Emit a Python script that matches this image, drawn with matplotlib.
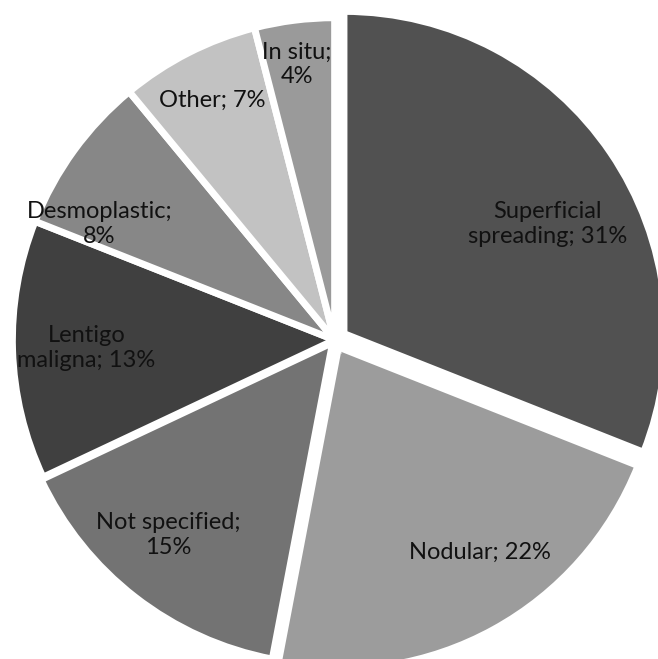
import matplotlib
matplotlib.use("Agg")
import matplotlib.pyplot as plt

# melanoma subtypes, clockwise from 12 o'clock
labels = ["Superficial\nspreading; 31%", "Nodular; 22%", "Not specified;\n15%",
          "Lentigo\nmaligna; 13%", "Desmoplastic;\n8%", "Other; 7%", "In situ;\n4%"]
shares = [31, 22, 15, 13, 8, 7, 4]
colors = ["#515151", "#9c9c9c", "#737373", "#404040", "#878787", "#c2c2c2", "#9a9a9a"]
explode = [0.035, 0.025, 0.01, 0.0, 0.0, 0.0, 0.0]

# label placement inside the wedges (pie units), like Excel's best fit
label_xy = [(0.66, 0.36), (0.45, -0.66), (-0.515, -0.605), (-0.77, -0.025),
            (-0.73, 0.36), (-0.38, 0.745), (-0.118, 0.854)]

plt.rcParams["font.family"] = ["Lato", "DejaVu Sans"]

fig = plt.figure(figsize=(6.58, 6.59), dpi=100)
ax = fig.add_axes([0.0, 0.0, 1.0, 1.0])

wedges, texts = ax.pie(
    shares,
    labels=labels,
    colors=colors,
    explode=explode,
    startangle=90,
    counterclock=False,
    labeldistance=0.79,
    radius=1.0,
    wedgeprops=dict(edgecolor="white", linewidth=5),
    textprops=dict(fontsize=17, color="#111111"),
)
for t, xy in zip(texts, label_xy):
    t.set_position(xy)
    t.set_ha("center")
    t.set_va("center")
    t.set_linespacing(1.2)

ax.set_xlim(-1.035, 1.0)
ax.set_ylim(-0.99, 1.055)
ax.set_aspect("equal")
ax.axis("off")

plt.savefig("out.png", dpi=100)
plt.close()
